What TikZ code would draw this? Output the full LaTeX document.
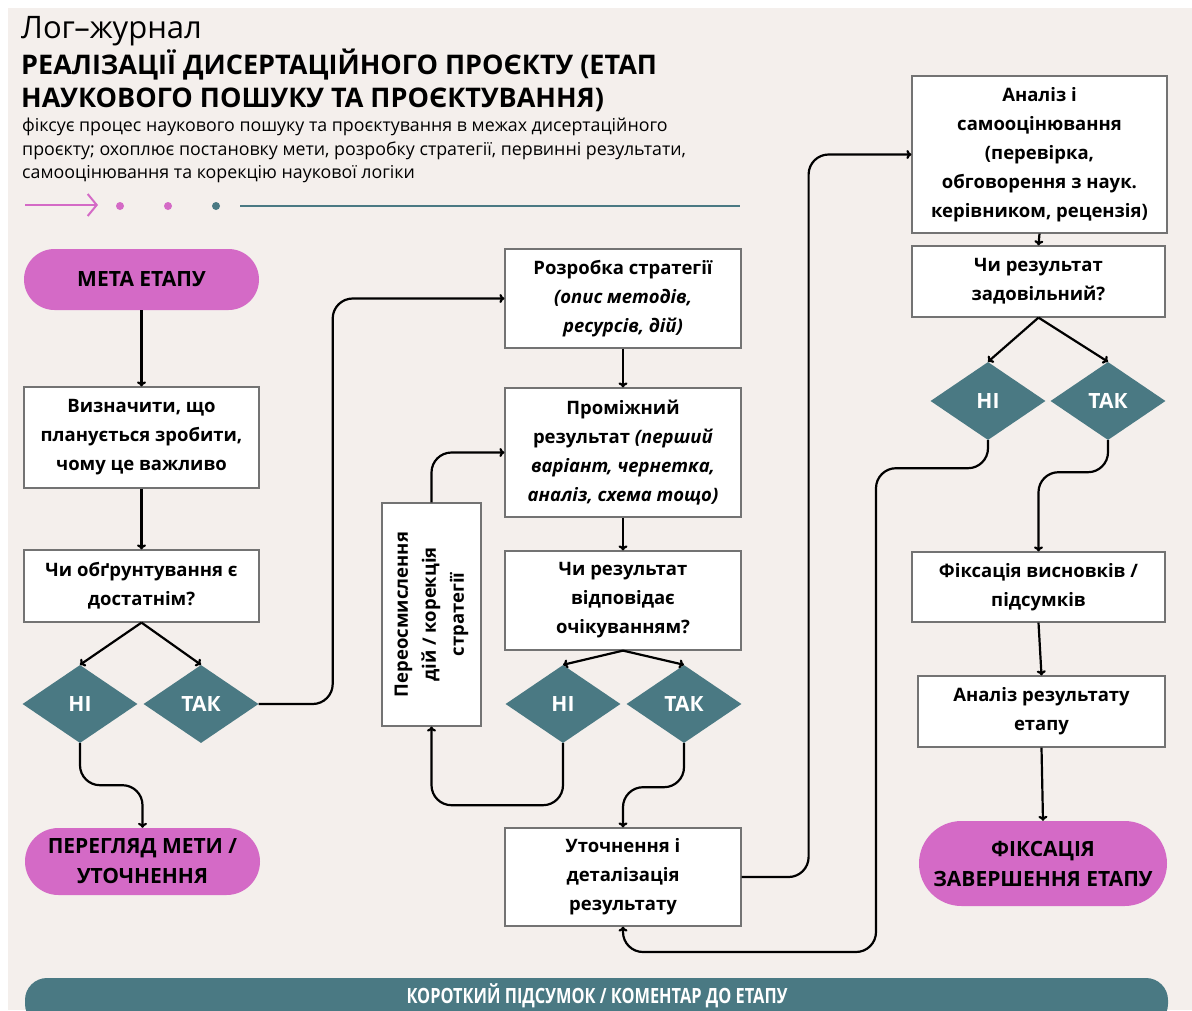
\documentclass[tikz,border=0pt]{standalone}
\usepackage{fontspec}
\setmainfont{Open Sans}
\newfontfamily\barfont[FakeStretch=0.78]{Open Sans}
\usepackage{tikz}
\usetikzlibrary{shapes.geometric,shapes.misc,calc,arrows.meta}

\definecolor{pagebg}{HTML}{F4EFEC}
\definecolor{pinkc}{HTML}{D46AC6}
\definecolor{tealc}{HTML}{4A7983}

\tikzset{
  stepbox/.style={draw=black!55, line width=1.2pt, fill=white, align=center,
    inner sep=0pt, font=\bfseries\fontsize{18.5}{29}\selectfont},
  pill/.style={rounded rectangle, fill=pinkc, align=center, inner sep=0pt,
    font=\bfseries\fontsize{21}{30}\selectfont},
  choice/.style={diamond, fill=tealc, text=white, inner sep=0pt,
    minimum width=115pt, minimum height=78pt,
    font=\bfseries\fontsize{21}{22}\selectfont},
  link/.style={-{To[length=5pt,width=9pt]}, line width=2.2pt, rounded corners=20pt}
}

\begin{document}
\begin{tikzpicture}[x=1pt,y=-1pt]
    \useasboundingbox (0,0) rectangle (1192,1010);
    \fill[pagebg] (8,8) rectangle (1192,1010);
    % heading
    \node[anchor=base west, inner sep=0pt, font=\fontsize{31}{34}\selectfont]
        (logtitle) at (21,38) {Лог–журнал};
    \node[anchor=north west, inner sep=0pt, align=left,
        font=\bfseries\fontsize{27}{33}\selectfont] (maintitle) at (21,49)
        {РЕАЛІЗАЦІЇ ДИСЕРТАЦІЙНОГО ПРОЄКТУ (ЕТАП\\
         НАУКОВОГО ПОШУКУ ТА ПРОЄКТУВАННЯ)};
    \node[anchor=north west, inner sep=0pt, align=left,
        font=\fontsize{17.8}{23.5}\selectfont] (subtitle) at (22,118)
        {фіксує процес наукового пошуку та проєктування в межах дисертаційного\\
         проєкту; охоплює постановку мети, розробку стратегії, первинні результати,\\
         самооцінювання та корекцію наукової логіки};
    % decor line
    \draw[pinkc, line width=2pt, -{Straight Barb[length=9pt,width=22pt]}]
        (25,205) -- (98,205);
    \fill[pinkc] (120,206) circle (4pt) (168,206) circle (4pt);
    \fill[tealc] (216,206) circle (4pt);
    \draw[tealc, line width=2pt] (240,206) -- (740,206);

    % left column
    \node[pill, minimum width=235pt, minimum height=61pt] (stagegoal) at (141.5,279.5)
        {МЕТА ЕТАПУ};
    \node[stepbox, minimum width=235pt, minimum height=101pt] (define) at (141.5,437.5)
        {Визначити, що\\планується зробити,\\чому це важливо};
    \node[stepbox, minimum width=235pt, minimum height=72pt] (justify) at (141.5,586)
        {Чи обґрунтування є\\достатнім?};
    \node[choice] (noa) at (80,704) {НІ};
    \node[choice] (yesa) at (201,704) {ТАК};
    \node[pill, minimum width=235pt, minimum height=67pt] (revise) at (142.5,861.5)
        {ПЕРЕГЛЯД МЕТИ /\\УТОЧНЕННЯ};

    % middle column
    \node[stepbox, minimum width=236pt, minimum height=99pt] (strategy) at (623,298.5)
        {Розробка стратегії\\\textit{(опис методів,}\\\textit{ресурсів, дій)}};
    \node[stepbox, minimum width=236pt, minimum height=129pt] (interim) at (623,452.5)
        {Проміжний\\результат \textit{(перший}\\\textit{варіант, чернетка,}\\\textit{аналіз, схема тощо)}};
    \node[stepbox, minimum width=236pt, minimum height=99pt] (expected) at (623,600.5)
        {Чи результат\\відповідає\\очікуванням?};
    \node[choice] (nob) at (563,704) {НІ};
    \node[choice] (yesb) at (684,704) {ТАК};
    \node[stepbox, minimum width=99pt, minimum height=223pt] (rethink) at (431.5,614.5) {};
    \node[rotate=90, align=center, inner sep=0pt,
        font=\bfseries\fontsize{18.5}{28}\selectfont] (rethinktext) at (rethink.center)
        {Переосмислення\\дій / корекція\\стратегії};
    \node[stepbox, minimum width=236pt, minimum height=98pt] (refine) at (623,877)
        {Уточнення і\\деталізація\\результату};

    % right column
    \node[stepbox, minimum width=255pt, minimum height=157pt] (selfcheck) at (1039.5,154.5)
        {Аналіз і\\самооцінювання\\(перевірка,\\обговорення з наук.\\керівником, рецензія)};
    \node[stepbox, minimum width=253pt, minimum height=71pt] (satisfied) at (1038.5,281.5)
        {Чи результат\\задовільний?};
    \node[choice] (noc) at (988,401) {НІ};
    \node[choice] (yesc) at (1108,401) {ТАК};
    \node[stepbox, minimum width=253pt, minimum height=70pt] (conclude) at (1038.5,587)
        {Фіксація висновків /\\підсумків};
    \node[stepbox, minimum width=247pt, minimum height=71pt] (stagecheck) at (1041.5,711.5)
        {Аналіз результату\\етапу};
    \node[pill, minimum width=248pt, minimum height=85pt] (finish) at (1043,863.5)
        {ФІКСАЦІЯ\\ЗАВЕРШЕННЯ ЕТАПУ};

    % connectors
    \draw[link] (stagegoal.south) -- (define.north);
    \draw[link] (define.south) -- (justify.north);
    \draw[link] (justify.south) -- (noa.north);
    \draw[link] (justify.south) -- (yesa.north);
    \draw[link] (noa.south) -- ++(0,42) -| (revise.north);
    \draw[link] (yesa.east) -- ++(74,0) |- (strategy.west);
    \draw[link] (strategy.south) -- (interim.north);
    \draw[link] (interim.south) -- (expected.north);
    \draw[link] (expected.south) -- (nob.north);
    \draw[link] (expected.south) -- (yesb.north);
    \draw[link] (rethink.north) |- (interim.west);
    \draw[link] (nob.south) -- ++(0,62) -| (rethink.south);
    \draw[link] (yesb.south) -- ++(0,44) -| (refine.north);
    \draw[link] (refine.east) -- ++(67,0) |- (selfcheck.west);
    \draw[link] (selfcheck.south) -- (satisfied.north);
    \draw[link] (satisfied.south) -- (noc.north);
    \draw[link] (satisfied.south) -- (yesc.north);
    \coordinate (loopback) at (876,952);
    \draw[link] (noc.south) -- ++(0,28) -| (loopback) -| (refine.south);
    \draw[link] (yesc.south) -- ++(0,32) -| (conclude.north);
    \draw[link] (conclude.south) -- (stagecheck.north);
    \draw[link] (stagecheck.south) -- (finish.north);

    % summary bar
    \begin{scope}
        \clip (0,0) rectangle (1192,1010);
        \fill[tealc, rounded corners=22pt] (25,978) rectangle (1168,1026);
    \end{scope}
    \node[text=white, inner sep=0pt, font=\barfont\bfseries\fontsize{21}{22}\selectfont]
        (summary) at (597,996) {КОРОТКИЙ ПІДСУМОК / КОМЕНТАР ДО ЕТАПУ};
\end{tikzpicture}
\end{document}
